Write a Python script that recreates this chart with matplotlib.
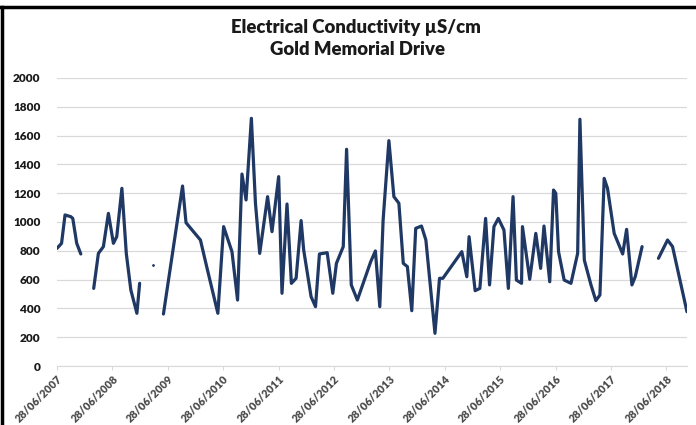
import numpy as np
import pandas as pd
import matplotlib
matplotlib.use("Agg")
import matplotlib.pyplot as plt
from matplotlib.lines import Line2D

plt.rcParams['font.family'] = ['Lato', 'DejaVu Sans']

# sample dates and EC readings (NaN = no reading -> gap in line)
dates = [
    "2007-06-28", "2007-07-28", "2007-08-20", "2007-09-27", "2007-10-10", "2007-11-05", "2007-12-02",
    "2008-01-15",
    "2008-02-25", "2008-03-27", "2008-04-29", "2008-06-01", "2008-07-04", "2008-07-26", "2008-08-29",
    "2008-09-27", "2008-10-27", "2008-12-06", "2008-12-24",
    "2009-02-01",
    "2009-03-25",
    "2009-04-25",
    "2009-05-30", "2009-10-03", "2009-10-26", "2010-01-29", "2010-03-14", "2010-05-24", "2010-07-01",
    "2010-08-25", "2010-10-01", "2010-10-30", "2010-11-26", "2010-12-31", "2011-01-27", "2011-02-24",
    "2011-04-17", "2011-05-16", "2011-06-29", "2011-07-21", "2011-08-23", "2011-09-21", "2011-10-22",
    "2011-11-24", "2011-12-11", "2012-01-29", "2012-02-27", "2012-03-24", "2012-05-14", "2012-06-20",
    "2012-07-14", "2012-08-28", "2012-09-19", "2012-10-20", "2012-11-29", "2013-02-25", "2013-03-28",
    "2013-04-26", "2013-05-18", "2013-06-25", "2013-07-28", "2013-08-30", "2013-09-28", "2013-10-25",
    "2013-11-23", "2013-12-19", "2014-01-26", "2014-02-24", "2014-04-25", "2014-05-25", "2014-06-16",
    "2014-10-19", "2014-11-21", "2014-12-06", "2015-01-15", "2015-02-15", "2015-03-25", "2015-04-20",
    "2015-05-19", "2015-06-17", "2015-07-24", "2015-08-22", "2015-09-22", "2015-10-14", "2015-11-17",
    "2015-11-23", "2016-01-10", "2016-02-19", "2016-03-22", "2016-04-13", "2016-05-21", "2016-06-15",
    "2016-06-30", "2016-07-18", "2016-08-24", "2016-10-08", "2016-11-21", "2016-12-06", "2017-01-04",
    "2017-02-17", "2017-03-21", "2017-04-17", "2017-05-15", "2017-06-06", "2017-07-20", "2017-09-14",
    "2017-10-10", "2017-11-14", "2017-12-06", "2018-01-20",
    "2018-03-15",
    "2018-05-08", "2018-07-07", "2018-08-09", "2018-11-12",
]
ec = [
    817, 852, 1049, 1037, 1025, 852, 778,
    np.nan,
    539, 782, 829, 1060, 852, 898, 1234,
    782, 528, 366, 574,
    np.nan,
    701,
    np.nan,
    361, 1250, 995, 875, 678, 366, 968,
    794, 458, 1333, 1153, 1720, 1130, 782,
    1176, 933, 1315, 505, 1125, 574, 609,
    1010, 806, 481, 412, 778, 787, 505,
    713, 829, 1505, 563, 458, 724, 799,
    412, 1014, 1565, 1176, 1130, 713, 690,
    384, 956, 972, 875, 227, 609, 609,
    794, 620, 898, 523, 539, 1025, 563,
    968, 1025, 944, 539, 1176, 597, 574,
    968, 602, 921, 678, 972, 585, 1222,
    1199, 794, 597, 574, 782, 1713, 736,
    563, 454, 493, 1303, 1234, 921, 778,
    949, 563, 620, 829,
    np.nan,
    748, 875, 829, 377,
]

yticks = list(range(0, 2001, 200))
xtick_years = list(range(2007, 2019))

df = pd.DataFrame({"date": pd.to_datetime(dates), "ec": ec})

fig = plt.figure(figsize=(6.96, 4.25), dpi=100)
ax = fig.add_axes([0.0819, 0.1388, 0.9051, 0.6777])

navy = "#1f3864"
ax.plot(df["date"], df["ec"], color=navy, lw=2.3, solid_joinstyle="round", solid_capstyle="round")

# single readings with no neighbours show as a dot
v = df["ec"].values
iso = [i for i in range(len(v)) if not np.isnan(v[i])
       and (i == 0 or np.isnan(v[i - 1])) and (i == len(v) - 1 or np.isnan(v[i + 1]))]
ax.plot(df["date"].iloc[iso], df["ec"].iloc[iso], "o", color=navy, ms=2.0, mew=0)

ax.set_ylim(0, 2000)
ax.set_yticks(yticks)
ax.set_xlim(df["date"].iloc[0], df["date"].iloc[-1])
xt = [pd.Timestamp(f"{y}-06-28") for y in xtick_years]
ax.set_xticks(xt)
ax.set_xticklabels([t.strftime("%d/%m/%Y") for t in xt], rotation=45, ha="right",
                   rotation_mode="anchor", fontsize=7.8, fontweight="heavy", color="#4a4a4a")
for lab in ax.get_yticklabels():
    lab.set_fontweight("heavy")
    lab.set_fontsize(8.5)
    lab.set_color("#1a1a1a")

ax.grid(axis="y", color="#d9d9d9", lw=0.9)
ax.set_axisbelow(True)
for s in ["top", "right", "left"]:
    ax.spines[s].set_visible(False)
ax.spines["bottom"].set_color("#d9d9d9")
ax.tick_params(axis="y", length=0, pad=12)
ax.tick_params(axis="x", length=3, color="#d9d9d9", pad=2)

fig.text(0.512, 0.935, "Electrical Conductivity µS/cm", ha="center", va="center",
         fontsize=13.3, fontweight="heavy", color="#1a1a1a")
fig.text(0.514, 0.883, "Gold Memorial Drive", ha="center", va="center",
         fontsize=13.3, fontweight="heavy", color="#1a1a1a")

# border of the screenshot
fig.add_artist(Line2D([0, 1], [1 - 7 / 425, 1 - 7 / 425], transform=fig.transFigure, color="black", lw=2.5))
fig.add_artist(Line2D([2 / 696, 2 / 696], [0, 1 - 7 / 425], transform=fig.transFigure, color="black", lw=2.5))

fig.savefig("out.png", dpi=100)
